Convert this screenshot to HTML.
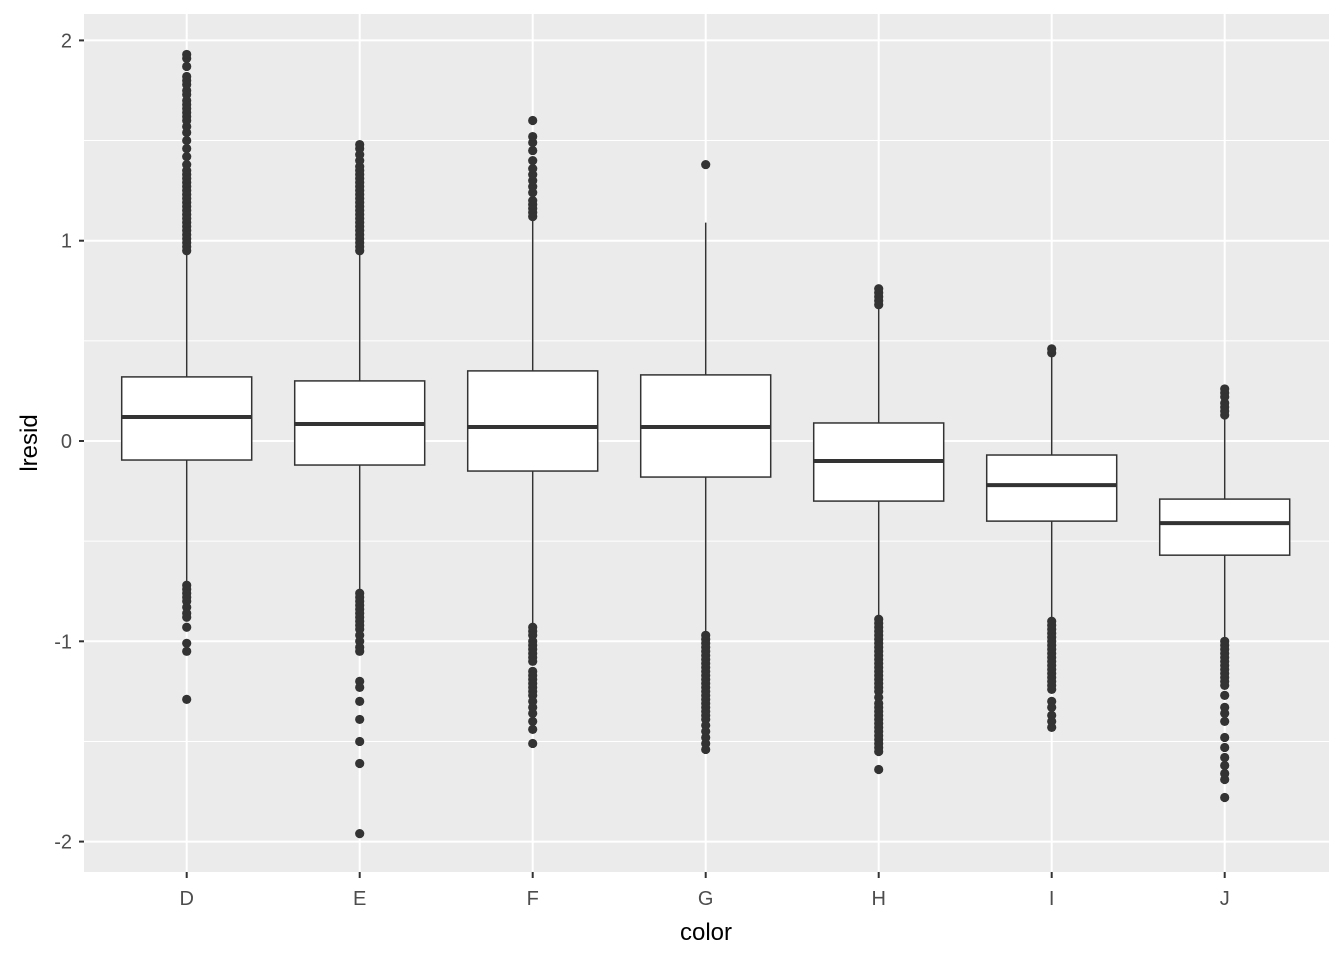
<!DOCTYPE html>
<html><head><meta charset="utf-8"><style>
body{margin:0;background:#fff;}
svg{display:block;font-family:"Liberation Sans",sans-serif;}
</style></head><body>
<svg id="chart" width="1344" height="960">
<rect x="84" y="14" width="1245" height="858" fill="#ebebeb"/>
<g id="grid"></g><g id="marks"></g><g id="axes"></g>
<text x="706" y="940" font-size="24" text-anchor="middle" fill="#000">color</text>
<text transform="translate(37,443) rotate(-90)" font-size="24" text-anchor="middle" fill="#000">lresid</text>
</svg>
<script>
const categories=["D","E","F","G","H","I","J"];
const q1=[-0.095,-0.12,-0.15,-0.18,-0.30,-0.40,-0.57];
const med=[0.12,0.085,0.07,0.07,-0.10,-0.22,-0.41];
const q3=[0.32,0.30,0.35,0.33,0.09,-0.07,-0.29];
const whiskLo=[-0.70,-0.74,-0.92,-0.96,-0.88,-0.89,-1.0];
const whiskHi=[0.93,0.93,1.10,1.09,0.67,0.43,0.12];
const outliers=[
[0.95,0.97,0.99,1.01,1.03,1.05,1.07,1.09,1.11,1.13,1.15,1.17,1.19,1.21,1.23,1.25,1.27,1.29,1.31,1.33,1.35,1.38,1.42,1.46,1.50,1.54,1.57,1.60,1.62,1.64,1.66,1.68,1.70,1.73,1.75,1.78,1.80,1.82,1.87,1.91,1.93,-0.72,-0.74,-0.76,-0.78,-0.80,-0.83,-0.86,-0.88,-0.93,-1.01,-1.05,-1.29],
[0.95,0.97,0.99,1.01,1.03,1.05,1.07,1.09,1.11,1.13,1.15,1.17,1.19,1.21,1.23,1.25,1.27,1.29,1.31,1.33,1.35,1.37,1.40,1.43,1.46,1.48,-0.76,-0.78,-0.80,-0.82,-0.84,-0.86,-0.88,-0.90,-0.92,-0.94,-0.97,-1.00,-1.03,-1.05,-1.20,-1.23,-1.30,-1.39,-1.50,-1.61,-1.96],
[1.12,1.14,1.16,1.18,1.20,1.24,1.27,1.30,1.33,1.36,1.40,1.45,1.49,1.52,1.60,-0.93,-0.95,-0.97,-1.00,-1.02,-1.04,-1.06,-1.08,-1.10,-1.15,-1.17,-1.19,-1.21,-1.23,-1.25,-1.27,-1.30,-1.33,-1.36,-1.40,-1.44,-1.51],
[1.38,-0.97,-0.99,-1.01,-1.03,-1.05,-1.07,-1.09,-1.11,-1.13,-1.15,-1.17,-1.19,-1.21,-1.23,-1.25,-1.27,-1.29,-1.31,-1.33,-1.35,-1.37,-1.39,-1.42,-1.45,-1.48,-1.51,-1.54],
[0.68,0.70,0.72,0.74,0.76,-0.89,-0.91,-0.93,-0.95,-0.97,-0.99,-1.01,-1.03,-1.05,-1.07,-1.09,-1.11,-1.13,-1.15,-1.17,-1.19,-1.21,-1.23,-1.25,-1.28,-1.31,-1.33,-1.35,-1.37,-1.39,-1.41,-1.43,-1.45,-1.47,-1.49,-1.51,-1.53,-1.55,-1.64],
[0.44,0.46,-0.90,-0.92,-0.94,-0.96,-0.98,-1.00,-1.02,-1.04,-1.06,-1.08,-1.10,-1.12,-1.14,-1.16,-1.18,-1.20,-1.22,-1.24,-1.30,-1.33,-1.37,-1.40,-1.43],
[0.13,0.15,0.17,0.19,0.22,0.24,0.26,-1.00,-1.02,-1.04,-1.06,-1.08,-1.10,-1.12,-1.14,-1.16,-1.18,-1.20,-1.22,-1.27,-1.33,-1.36,-1.40,-1.48,-1.53,-1.58,-1.62,-1.66,-1.69,-1.78]
];
const yTicks=[2,1,0,-1,-2];
const yMinor=[1.5,0.5,-0.5,-1.5];

const NS="http://www.w3.org/2000/svg";
const y=v=>441-v*200.3;
const x=i=>186.7+i*173;
function mk(parent,tag,attrs){const e=document.createElementNS(NS,tag);for(const k in attrs)e.setAttribute(k,attrs[k]);document.getElementById(parent).appendChild(e);return e;}

yMinor.forEach(v=>{const e=mk('grid','line',{x1:84,x2:1329,y1:y(v),y2:y(v),stroke:'#fff','stroke-width':1});

});
yTicks.forEach(v=>{const e=mk('grid','line',{x1:84,x2:1329,y1:y(v),y2:y(v),stroke:'#fff','stroke-width':2});


const t=mk('axes','line',{x1:79,x2:84,y1:y(v),y2:y(v),stroke:'#333','stroke-width':2});


const l=mk('axes','text',{x:72,y:y(v)+7,'font-size':20,'text-anchor':'end',fill:'#4d4d4d'});
l.textContent=String(v);

});
categories.forEach((c,i)=>{const e=mk('grid','line',{x1:x(i),x2:x(i),y1:14,y2:872,stroke:'#fff','stroke-width':2});


const t=mk('axes','line',{x1:x(i),x2:x(i),y1:872,y2:878,stroke:'#333','stroke-width':2});


const l=mk('axes','text',{x:x(i),y:905,'font-size':20,'text-anchor':'middle',fill:'#4d4d4d'});
l.textContent=c;



const w=mk('marks','line',{x1:x(i),x2:x(i),y1:y(whiskHi[i]),y2:y(whiskLo[i]),stroke:'#333','stroke-width':1.5});


const b=mk('marks','rect',{x:x(i)-65,width:130,y:y(q3[i]),height:y(q1[i])-y(q3[i]),fill:'#fff',stroke:'#333','stroke-width':1.5});


const m=mk('marks','line',{x1:x(i)-65,x2:x(i)+65,y1:y(med[i]),y2:y(med[i]),stroke:'#333','stroke-width':4});


outliers[i].forEach(v=>{const p=mk('marks','circle',{cx:x(i),cy:y(v),r:4.6,fill:'#333'});

});
});
</script>
</body></html>
